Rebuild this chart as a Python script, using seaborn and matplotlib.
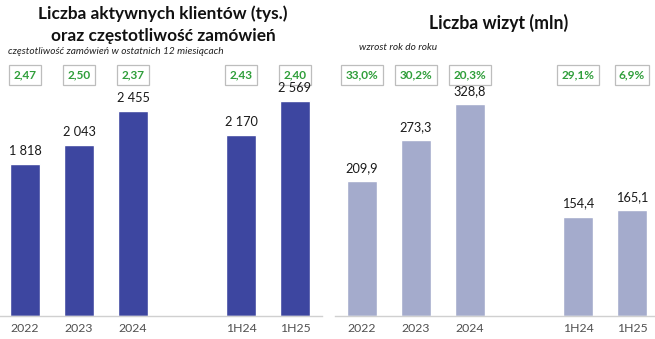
import matplotlib
matplotlib.use("Agg")
import matplotlib.pyplot as plt
import seaborn as sns
import pandas as pd
import numpy as np

# ---- data ----
order = ["2022", "2023", "2024", " ", "1H24", "1H25"]
periods = ["2022", "2023", "2024", "1H24", "1H25"]
clients = [1818, 2043, 2455, 2170, 2569]
clients_labels = ["1 818", "2 043", "2 455", "2 170", "2 569"]
frequency = ["2,47", "2,50", "2,37", "2,43", "2,40"]
visits = [209.9, 273.3, 328.8, 154.4, 165.1]
visits_labels = ["209,9", "273,3", "328,8", "154,4", "165,1"]
growth = ["33,0%", "30,2%", "20,3%", "29,1%", "6,9%"]

sns.set_theme(style="white")
plt.rcParams["font.family"] = ["Lato", "DejaVu Sans"]

W, H = 655, 339
fig = plt.figure(figsize=(W / 100, H / 100), dpi=100)
fig.patch.set_facecolor("white")

def make_ax(x0, ytop_val, values, color, labels, boxes):
    ax = fig.add_axes([x0 / W, (H - 316) / H, 324 / W, 316 / H])
    df = pd.DataFrame({"period": periods, "value": values})
    sns.barplot(data=df, x="period", y="value", order=order, color=color,
                saturation=1, width=0.54, ax=ax)
    ax.set_xlim(-0.5, 5.5)
    ax.set_ylim(0, ytop_val)
    ax.set_xlabel("")
    ax.set_ylabel("")
    ax.set_yticks([])
    for s in ["top", "left", "right"]:
        ax.spines[s].set_visible(False)
    ax.spines["bottom"].set_color("#d0d0d0")
    ax.spines["bottom"].set_linewidth(1.0)
    ax.tick_params(axis="x", which="major", length=0, labelsize=8.8,
                   labelcolor="#505050", pad=5)
    ax.set_xticks(np.arange(-0.5, 6.0, 1.0), minor=True)
    ax.tick_params(axis="x", which="minor", length=4, color="#d0d0d0",
                   width=1.0, direction="out")
    ax.patch.set_alpha(0)
    px = ytop_val / 316.0
    pos = [0, 1, 2, 4, 5]
    for p, b in zip(pos, boxes):
        ax.text(p, (316 - 75) * px, b, ha="center", va="center",
                fontsize=8.5, fontweight="bold", color="#2f9e3a", zorder=3,
                bbox=dict(boxstyle="square,pad=0.36", fc="white",
                          ec="#bdbdbd", lw=0.9))
    for p, v, lab in zip(pos, values, labels):
        ax.text(p, v + 13 * px, lab, ha="center", va="center",
                fontsize=9.2, color="#1a1a1a", zorder=5)
    return ax

make_ax(-2, 3784, clients, "#3d46a0", clients_labels, frequency)
make_ax(335, 491, visits, "#a4abcc", visits_labels, growth)

# titles
fig.text(163 / W, 1 - 14 / H, "Liczba aktywnych klientów (tys.)",
         ha="center", va="center", fontsize=12.4, fontweight="bold", color="#111111")
fig.text(163 / W, 1 - 36 / H, "oraz częstotliwość zamówień",
         ha="center", va="center", fontsize=12.4, fontweight="bold", color="#111111")
fig.text(499 / W, 1 - 23 / H, "Liczba wizyt (mln)",
         ha="center", va="center", fontsize=12.7, fontweight="bold", color="#111111")
fig.text(8 / W, 1 - 51 / H, "częstotliwość zamówień w ostatnich 12 miesiącach",
         ha="left", va="center", fontsize=7.3, style="italic", color="#222222")
fig.text(359 / W, 1 - 48 / H, "wzrost rok do roku",
         ha="left", va="center", fontsize=7.3, style="italic", color="#222222")

fig.savefig("out.png", dpi=100, facecolor="white")
